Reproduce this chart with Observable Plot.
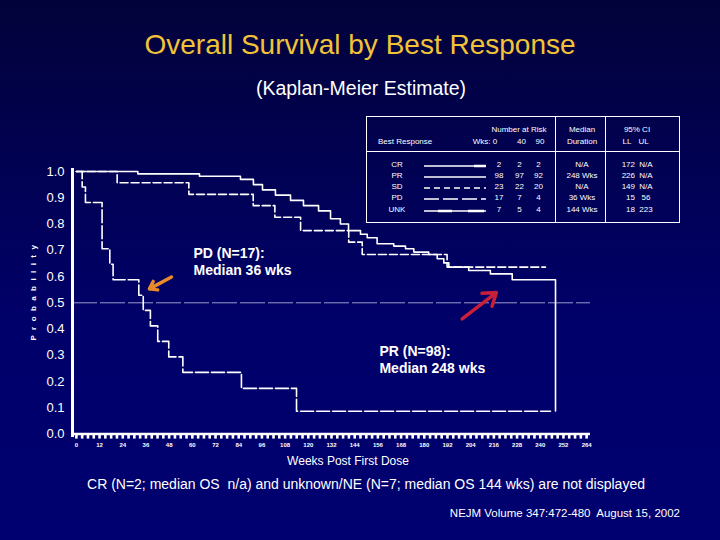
<!DOCTYPE html>
<html><head><meta charset="utf-8">
<script src="https://cdn.jsdelivr.net/npm/d3@7"></script>
<script src="https://cdn.jsdelivr.net/npm/@observablehq/plot@0.6"></script>
<style>
body{margin:0;background:#000060;}
#page{position:relative;width:720px;height:540px;background:linear-gradient(#02023a,#00006a 60%,#000070);overflow:hidden;font-family:"Liberation Sans",Arial,sans-serif;color:#fff;}
.abs{position:absolute;white-space:nowrap;}
.c{transform:translate(-50%,-50%);}
.l{transform:translate(0,-50%);}
.r{transform:translate(-100%,-50%);}
#chart{position:absolute;left:0;top:150px;}
</style></head><body><div id="page"></div>
<script>
// ---- data ----
const weeksPR = [0, 31.8, 63.7, 84.9, 91.6, 96.3, 103, 110.8, 117.5, 125.3, 131.5, 136.6, 140.8, 147, 150.5, 155.6, 164.2, 170.3, 174.6, 182.3, 186.7, 190.1, 192.7, 203, 214.2, 225.5, 247.9];
const survPR  = [1, 0.991, 0.982, 0.97, 0.95, 0.93, 0.91, 0.89, 0.87, 0.85, 0.82, 0.80, 0.775, 0.761, 0.748, 0.725, 0.716, 0.706, 0.693, 0.684, 0.668, 0.652, 0.636, 0.623, 0.610, 0.588, 0.088];
const weeksSD = [0, 21.1, 58.2, 91.5, 102.7, 116, 140.9, 147.9, 191.8, 242.7];
const survSD  = [1, 0.957, 0.913, 0.870, 0.826, 0.775, 0.731, 0.684, 0.636, 0.636];
const weeksPD = [0, 3.0, 4.7, 13.3, 17.3, 19.0, 32.3, 34.6, 38.3, 42.1, 47.8, 55.1, 85.4, 113.9, 245.3];
const survPD  = [1, 0.941, 0.882, 0.706, 0.647, 0.588, 0.529, 0.471, 0.412, 0.353, 0.294, 0.235, 0.174, 0.087, 0.087];

const xDomain = [-2, 266];
const medianLevel = 0.5;
const yTicks = [0, 0.1, 0.2, 0.3, 0.4, 0.5, 0.6, 0.7, 0.8, 0.9, 1.0];
const xMinorTicks = d3.range(0, 265, 3);
const xLabelTicks = [0, 12, 24, 36, 48, 60, 72, 84, 96, 108, 120, 132, 144, 156, 168, 180, 192, 204, 216, 228, 240, 252, 264];

// legend table
const groups = ["CR", "PR", "SD", "PD", "UNK"];
const risk0 = [2, 98, 23, 17, 7];
const risk40 = [2, 97, 22, 7, 5];
const risk90 = [2, 92, 20, 4, 4];
const medians = ["N/A", "248 Wks", "N/A", "36 Wks", "144 Wks"];
const ciLL = ["172", "226", "149", "15", "18"];
const ciUL = ["N/A", "N/A", "N/A", "56", "223"];

// annotations (data coordinates)
const notes = [
  {x: 60.6, y: 0.66, text: "PD (N=17):\nMedian 36 wks"},
  {x: 156.8, y: 0.286, text: "PR (N=98):\nMedian 248 wks"}
];
const arrows = [
  {x1: 49.2, y1: 0.598, x2: 37.8, y2: 0.553, color: "#e8892c"},
  {x1: 199.6, y1: 0.439, x2: 217.3, y2: 0.539, color: "#c8203a"}
];

// ---- build ----
const page = document.getElementById("page");
function add(html, cls, left, top, style="") {
  const d = document.createElement("div");
  d.className = "abs " + cls;
  d.style.left = left + "px"; d.style.top = top + "px";
  d.style.cssText += style;
  d.innerHTML = html;
  page.appendChild(d);
  return d;
}
add("Overall Survival by Best Response", "c", 360, 45, "font-size:28px;color:#f2c237;");
add("(Kaplan-Meier Estimate)", "c", 361, 88, "font-size:19.5px;");
add("CR (N=2; median OS&nbsp; n/a) and unknown/NE (N=7; median OS 144 wks) are not displayed", "c", 366, 484, "font-size:14px;");
add("NEJM Volume 347:472-480&nbsp; August 15, 2002", "r", 680, 513, "font-size:11.5px;");
add("Weeks Post First Dose", "c", 348, 461, "font-size:12px;");
add("P r o b a b i l i t y", "c", 33, 292, "font-size:8px;font-weight:bold;letter-spacing:1.6px;transform:translate(-50%,-50%) rotate(-90deg);");

const SD = (data, key) => data;
const series = [
  {name: "PR", weeks: weeksPR, surv: survPR, dash: null},
  {name: "SD", weeks: weeksSD, surv: survSD, dash: "8,3"},
  {name: "PD", weeks: weeksPD, surv: survPD, dash: "13,3"}
];

const marks = [
  Plot.ruleY([medianLevel], {x1: xDomain[0], x2: xDomain[1], stroke: "#9a9ac8", strokeWidth: 1, strokeDasharray: "25,3"}),
  Plot.axisY({ticks: yTicks, tickFormat: ".1f", tickSize: 0, tickPadding: 8, fontSize: 13, color: "white", label: null}),
  Plot.axisX({ticks: xMinorTicks, tickSize: 5, tickFormat: () => "", stroke: "white", strokeWidth: 2.6, label: null}),
  Plot.axisX({ticks: xLabelTicks, tickSize: 0, tickPadding: 9, fontSize: 6, fontWeight: "bold", color: "white", label: null}),
  Plot.ruleX([xDomain[0]], {y1: -0.013, y2: 1.011, stroke: "white", strokeWidth: 3}),
  Plot.ruleY([0], {x1: xDomain[0], x2: xDomain[1], stroke: "white", strokeWidth: 2.5}),
  ...series.map(s => Plot.line(s.weeks.map((w, i) => ({week: w, surv: s.surv[i]})), {
    x: "week", y: "surv", curve: "step-after", stroke: "white", strokeWidth: 1.6,
    strokeDasharray: s.dash ?? undefined
  })),
  Plot.arrow(arrows, {x1: "x1", y1: "y1", x2: "x2", y2: "y2", stroke: "color", strokeWidth: 3.5, headLength: 9, headAngle: 70}),
  Plot.text(notes, {x: "x", y: "y", text: "text", textAnchor: "start", fill: "white", fontSize: 14, fontWeight: "bold", lineHeight: 1.2})
];

const chart = Plot.plot({
  width: 720, height: 330,
  marginLeft: 72, marginRight: 130, marginTop: 21, marginBottom: 46.4,
  style: {background: "transparent", color: "white", fontFamily: "Liberation Sans, Arial, sans-serif", overflow: "visible"},
  x: {domain: xDomain, axis: null},
  y: {domain: [0, 1], axis: null},
  marks
});
chart.id = "chart";
page.appendChild(chart);

// legend table box
const box = document.createElement("div");
box.className = "abs";
box.style.cssText = "left:366px;top:116px;width:312px;height:105px;border:1px solid white;font-size:8px;";
page.appendChild(box);
const lx = 366, ly = 116;
function vline(x){ const d=document.createElement("div"); d.className="abs"; d.style.cssText=`left:${x-lx}px;top:0;width:1px;height:105px;background:white;`; box.appendChild(d);}
vline(554); vline(604);
const hl=document.createElement("div"); hl.className="abs"; hl.style.cssText="left:0;top:34px;width:312px;height:1px;background:white;"; box.appendChild(hl);
const T = (t, cls, x, y) => add(t, cls, x, y, "font-size:8px;");
T("Number at Risk", "c", 519, 129);
T("Median", "c", 582, 129);
T("95% CI", "c", 637, 129);
T("Best Response", "l", 378, 141);
T("Wks: 0", "c", 485, 141);
T("40", "c", 521.5, 141);
T("90", "c", 540, 141);
T("Duration", "c", 582, 141);
T("LL", "c", 627, 141);
T("UL", "c", 643.5, 141);
const rowY = [163.5, 174.5, 185.5, 197, 208.5];
const sampleDash = ["", "", "6,4", "15,4", "22,3"];
groups.forEach((g, i) => {
  const y = rowY[i];
  T(g, "c", 397, y);
  T(String(risk0[i]), "c", 499, y);
  T(String(risk40[i]), "c", 519.5, y);
  T(String(risk90[i]), "c", 538.5, y);
  T(medians[i], "c", 582, y);
  T(ciLL[i], "r", 635, y);
  T(ciUL[i], "c", 646, y);
  const svgNS = "http://www.w3.org/2000/svg";
  const s = document.createElementNS(svgNS, "svg");
  s.setAttribute("width", 64); s.setAttribute("height", 6);
  s.style.cssText = `position:absolute;left:424px;top:${y - 1}px;`;
  const ln = document.createElementNS(svgNS, "line");
  ln.setAttribute("x1", 0); ln.setAttribute("x2", 62); ln.setAttribute("y1", 3); ln.setAttribute("y2", 3);
  ln.setAttribute("stroke", "white"); ln.setAttribute("stroke-width", 1.3);
  if (sampleDash[i]) ln.setAttribute("stroke-dasharray", sampleDash[i]);
  s.appendChild(ln);
  if (g === "CR" || g === "UNK") {
    const th = document.createElementNS(svgNS, "line");
    th.setAttribute("x1", g === "CR" ? 50 : 14); th.setAttribute("x2", g === "CR" ? 62 : 28);
    th.setAttribute("y1", 3); th.setAttribute("y2", 3);
    th.setAttribute("stroke", "white"); th.setAttribute("stroke-width", 2.5);
    s.appendChild(th);
    if (g === "UNK") {
      const th2 = th.cloneNode(); th2.setAttribute("x1", 44); th2.setAttribute("x2", 60); s.appendChild(th2);
    }
  }
  page.appendChild(s);
});
</script></body></html>
